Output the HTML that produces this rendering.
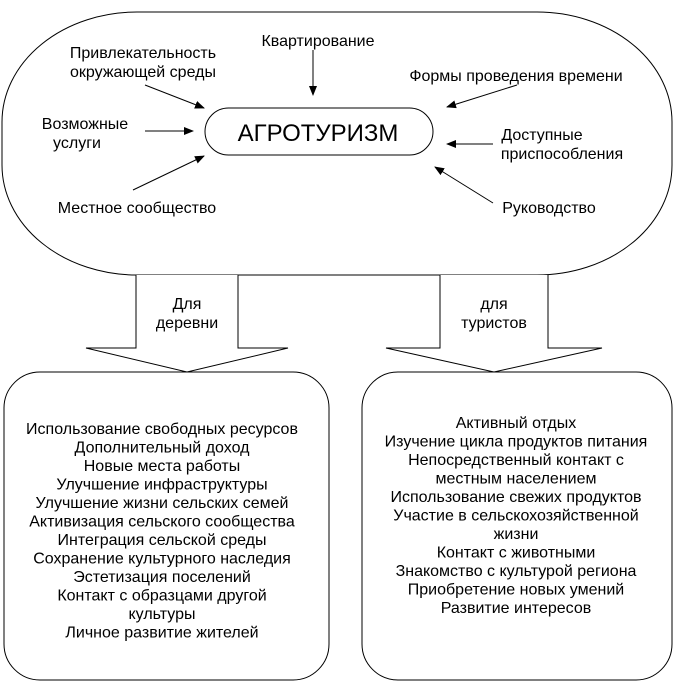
<!DOCTYPE html>
<html><head><meta charset="utf-8"><style>
body{margin:0;background:#fff;}
svg text{font-family:"Liberation Sans",sans-serif;fill:#000;}
</style></head><body>
<svg width="674" height="685" viewBox="0 0 674 685" xmlns="http://www.w3.org/2000/svg">
<defs><marker id="a" markerWidth="10" markerHeight="8" refX="9" refY="4" orient="auto" markerUnits="userSpaceOnUse"><path d="M0,0 L10,4 L0,8 z" fill="#000"/></marker></defs>
<rect x="2" y="12" width="670" height="263" rx="135" ry="110" fill="#fff" stroke="#000" stroke-width="1"/>
<rect x="205" y="108" width="228" height="47" rx="23.5" fill="#fff" stroke="#000"/>
<text x="318" y="141" font-size="24" text-anchor="middle">АГРОТУРИЗМ</text>
<g font-size="16" text-anchor="middle">
<text x="143" y="58">Привлекательность</text><text x="143" y="77">окружающей среды</text>
<text x="318" y="46">Квартирование</text>
<text x="516" y="81">Формы проведения времени</text>
<text x="85" y="129">Возможные</text><text x="77" y="148">услуги</text>
<text x="542" y="140">Доступные</text><text x="562" y="159">приспособления</text>
<text x="137" y="213">Местное сообщество</text>
<text x="549" y="213">Руководство</text>
</g>
<g stroke="#000" stroke-width="1" marker-end="url(#a)">
<line x1="145" y1="85" x2="204" y2="108"/>
<line x1="313" y1="50" x2="313" y2="95"/>
<line x1="517" y1="85" x2="447" y2="107"/>
<line x1="145" y1="131" x2="193" y2="131"/>
<line x1="493" y1="144" x2="447" y2="144"/>
<line x1="133" y1="190" x2="204" y2="156"/>
<line x1="493" y1="203" x2="435" y2="167"/>
</g>
<path d="M136,275 L136,348 L86,348 L187,372 L288,348 L238,348 L238,275" fill="#fff" stroke="#000"/>
<path d="M440,275 L440,348 L386,348 L494,372 L602,348 L548,348 L548,275" fill="#fff" stroke="#000"/>
<g font-size="16" text-anchor="middle">
<text x="187" y="309">Для</text><text x="187" y="328">деревни</text>
<text x="494" y="309">для</text><text x="494" y="328">туристов</text>
</g>
<rect x="4" y="372" width="325" height="308" rx="36" fill="none" stroke="#000"/>
<rect x="362" y="372" width="310" height="308" rx="36" fill="none" stroke="#000"/>
<g font-size="16" text-anchor="middle">
<text x="162" y="434">Использование свободных ресурсов</text>
<text x="162" y="452.5">Дополнительный доход</text>
<text x="162" y="471">Новые места работы</text>
<text x="162" y="489.5">Улучшение инфраструктуры</text>
<text x="162" y="508">Улучшение жизни сельских семей</text>
<text x="162" y="526.5">Активизация сельского сообщества</text>
<text x="162" y="545">Интеграция сельской среды</text>
<text x="162" y="563.5">Сохранение культурного наследия</text>
<text x="162" y="582">Эстетизация поселений</text>
<text x="162" y="600.5">Контакт с образцами другой</text>
<text x="162" y="619">культуры</text>
<text x="162" y="637.5">Личное развитие жителей</text>
<text x="516" y="428">Активный отдых</text>
<text x="516" y="446.5">Изучение цикла продуктов питания</text>
<text x="516" y="465">Непосредственный контакт с</text>
<text x="516" y="483.5">местным населением</text>
<text x="516" y="502">Использование свежих продуктов</text>
<text x="516" y="520.5">Участие в сельскохозяйственной</text>
<text x="516" y="539">жизни</text>
<text x="516" y="557.5">Контакт с животными</text>
<text x="516" y="576">Знакомство с культурой региона</text>
<text x="516" y="594.5">Приобретение новых умений</text>
<text x="516" y="613">Развитие интересов</text>
</g>
</svg>
</body></html>
